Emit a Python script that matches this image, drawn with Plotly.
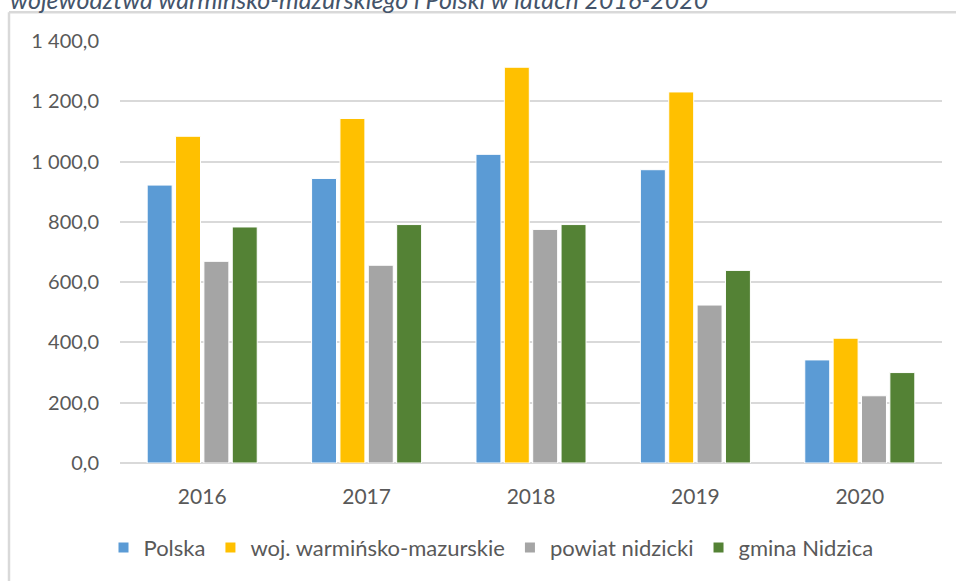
import plotly.graph_objects as go

# Years on the category axis
years = ["2016", "2017", "2018", "2019", "2020"]

# Values per series
polska = [922, 944, 1024, 973, 342]
woj_wm = [1084, 1143, 1313, 1231, 414]
powiat = [669, 656, 775, 524, 223]
gmina = [783, 791, 791, 639, 300]

series_names = ["Polska", "woj. warmińsko-mazurskie", "powiat nidzicki", "gmina Nidzica"]
series_values = [polska, woj_wm, powiat, gmina]
series_colors = ["#5B9BD5", "#FFC000", "#A5A5A5", "#548235"]

y_ticks = [0, 200, 400, 600, 800, 1000, 1200, 1400]

title_text = "województwa warmińsko-mazurskiego i Polski w latach 2016-2020"

W, H = 956, 581
L, R, T, B = 120, 14, 41, 116
plot_h = H - T - B
plot_w = W - L - R


def px_x(px):
    return (px - L) / plot_w


def px_y(py):
    return (H - B - py) / plot_h


fig = go.Figure()
for name, vals, col in zip(series_names, series_values, series_colors):
    fig.add_trace(go.Bar(
        x=years, y=vals, name=name,
        marker=dict(color=col, line=dict(color="white", width=1)),
    ))

font_family = "Lato, 'Open Sans', sans-serif"

fig.update_layout(
    width=W, height=H,
    margin=dict(l=L, r=R, t=T, b=B),
    paper_bgcolor="white", plot_bgcolor="white",
    separators=", ",
    barmode="group", bargap=0.31, bargroupgap=0.12,
    font=dict(family=font_family, size=20, color="#595959"),
    xaxis=dict(
        showgrid=False, showline=False, zeroline=False,
        ticks="", ticklabelstandoff=19,
        tickfont=dict(size=21, color="#595959"),
    ),
    yaxis=dict(
        range=[0, 1400], tickvals=y_ticks, tickformat=",.1f",
        showgrid=True, gridcolor="#D9D9D9", gridwidth=1.5,
        zeroline=True, zerolinecolor="#D9D9D9", zerolinewidth=1.5,
        showline=False, ticks="", ticklabelstandoff=20,
        tickfont=dict(size=20, color="#595959"),
    ),
    legend=dict(
        orientation="h", x=px_x(491), xanchor="center",
        y=px_y(550), yanchor="middle",
        font=dict(size=22, color="#595959"),
        itemsizing="constant", traceorder="normal",
        itemwidth=30,
    ),
    showlegend=True,
)

# Chart frame: top and left edges
fig.add_shape(type="line", xref="paper", yref="paper",
              x0=px_x(9), x1=px_x(960), y0=px_y(12), y1=px_y(12),
              line=dict(color="#D9D9D9", width=2.5))
fig.add_shape(type="line", xref="paper", yref="paper",
              x0=px_x(9), x1=px_x(9), y0=px_y(12), y1=px_y(590),
              line=dict(color="#D9D9D9", width=2.5))

# Caption line above the frame
fig.add_annotation(
    text=title_text, xref="paper", yref="paper",
    x=px_x(8), xanchor="left", y=px_y(-1), yanchor="middle",
    showarrow=False,
    font=dict(family=font_family, size=25, color="#44546A", style="italic"),
)

fig.write_html("out.html")
